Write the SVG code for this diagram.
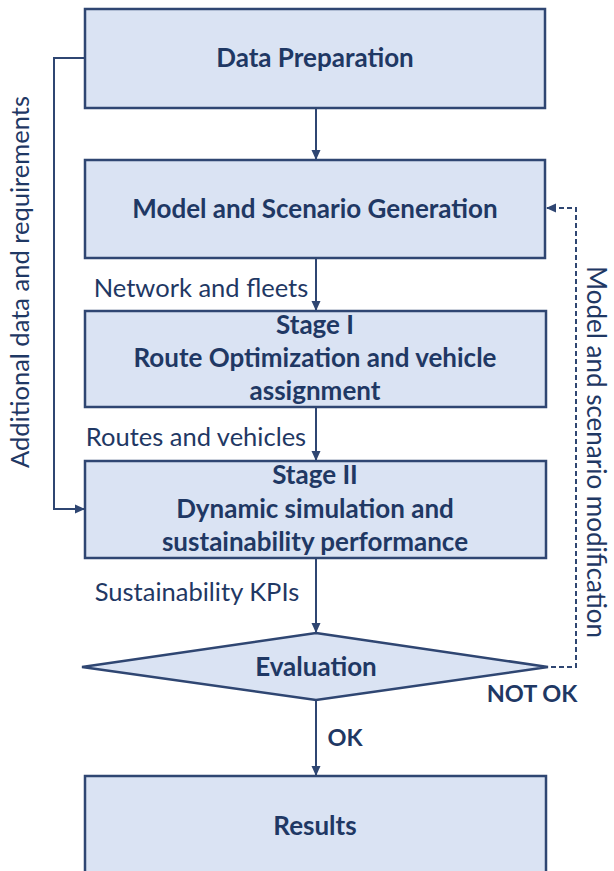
<svg xmlns="http://www.w3.org/2000/svg" width="614" height="871" viewBox="0 0 614 871">
<style>
.box{fill:#dae3f3;stroke:#2f4672;stroke-width:2.5}
.t{font-family:Lato,"Open Sans","Liberation Sans",sans-serif;fill:#1f3864;text-anchor:middle}
.b{font-weight:bold;font-size:26px}
.n{font-size:25.5px}
.c{fill:none;stroke:#2f4672;stroke-width:2}
.d{stroke-dasharray:5,3}
</style>
<defs>
<marker id="ah" markerWidth="10" markerHeight="10" refX="9" refY="5" orient="auto" markerUnits="userSpaceOnUse">
<path d="M0,0.5 L10,5 L0,9.5 Z" fill="#2f4672"/>
</marker>
</defs>
<rect width="614" height="871" fill="#ffffff"/>
<g id="connectors">
<path class="c" d="M316,108 V159" marker-end="url(#ah)"/>
<path class="c" d="M316,258 V310" marker-end="url(#ah)"/>
<path class="c" d="M316,407 V460" marker-end="url(#ah)"/>
<path class="c" d="M316,558 V632" marker-end="url(#ah)"/>
<path class="c" d="M316,700 V775" marker-end="url(#ah)"/>
<path class="c" d="M85,58 H54 V509 H84" marker-end="url(#ah)"/>
<path class="c d" d="M543,667 H576 V208 H547" marker-end="url(#ah)"/>
</g>
<g id="n1"><rect class="box" x="85" y="9" width="460" height="99"/><text class="t b" x="315" y="67">Data Preparation</text></g>
<g id="n2"><rect class="box" x="85" y="160" width="460" height="98"/><text class="t b" x="315" y="218">Model and Scenario Generation</text></g>
<g id="n3"><rect class="box" x="85" y="311" width="461" height="96"/><text class="t b" x="315" y="334">Stage I</text><text class="t b" x="315" y="367">Route Optimization and vehicle</text><text class="t b" x="315" y="400">assignment</text></g>
<g id="n4"><rect class="box" x="85" y="461" width="461" height="97"/><text class="t b" x="315" y="484">Stage II</text><text class="t b" x="315" y="518">Dynamic simulation and</text><text class="t b" x="315" y="551">sustainability performance</text></g>
<g id="n5"><path class="box" d="M316,633 L548,667 L316,700 L82,667 Z"/><text class="t b" x="316" y="676">Evaluation</text></g>
<g id="n6"><rect class="box" x="85" y="776" width="461" height="110"/><text class="t b" x="315" y="835">Results</text></g>
<g id="labels">
<text class="t n" x="201" y="297">Network and fleets</text>
<text class="t n" x="196" y="446">Routes and vehicles</text>
<text class="t n" x="197" y="601">Sustainability KPIs</text>
<text class="t b" x="532" y="702" style="font-size:23.5px">NOT OK</text>
<text class="t b" x="345" y="746" style="font-size:23.5px">OK</text>
<text class="t n" transform="translate(29,282) rotate(-90)">Additional data and requirements</text>
<text class="t n" transform="translate(587,452) rotate(90)" style="font-size:26px">Model and scenario modification</text>
</g>
</svg>
